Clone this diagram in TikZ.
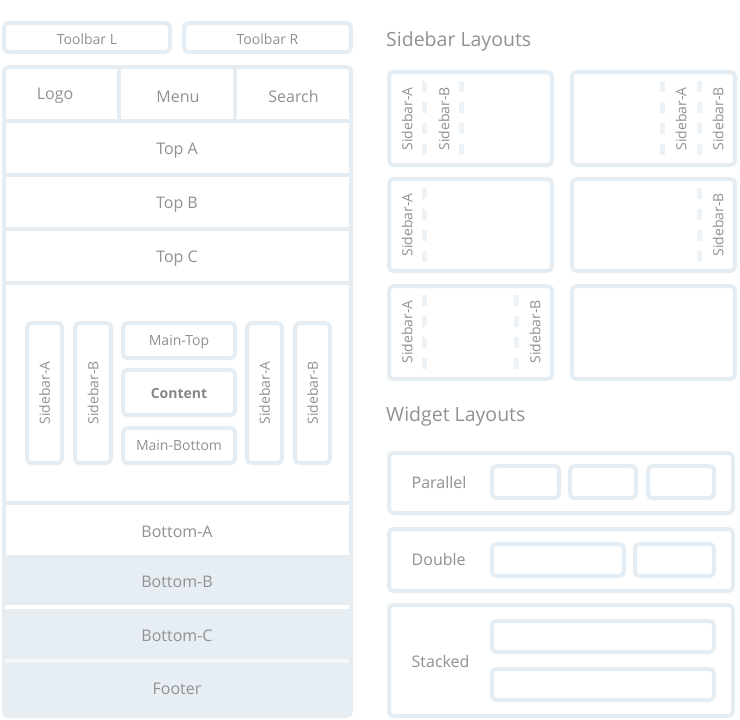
\documentclass[tikz,border=0pt]{standalone}
\usepackage{fontspec}
\setmainfont{Open Sans}
\definecolor{bordc}{RGB}{228,237,243}
\definecolor{fillc}{RGB}{230,238,243}
\definecolor{dashc}{RGB}{237,242,246}
\definecolor{footsep}{RGB}{244,247,250}
\definecolor{txtc}{RGB}{145,145,148}
\definecolor{boldc}{RGB}{135,135,138}
\tikzset{
  box/.style={draw=bordc, line width=4pt, rounded corners=4.5pt, inner sep=0pt, fill=white},
  sep/.style={draw=bordc, line width=4pt},
  dashln/.style={draw=dashc, line width=5pt, dash pattern=on 11pt off 10pt},
  lbl/.style={text=txtc, inner sep=0pt, anchor=base, font=\fontsize{16}{18}\selectfont},
  small/.style={text=txtc, inner sep=0pt, anchor=base, font=\fontsize{14}{16}\selectfont},
  vlbl/.style={text=txtc, inner sep=0pt, rotate=90, font=\fontsize{14}{16}\selectfont},
  ttl/.style={text=txtc, inner sep=0pt, anchor=base west, font=\fontsize{19.5}{22}\selectfont},
}
% name, x1, y1, x2, y2 (outer pixel edges), extra style
\newcommand\bx[6]{%
  \node[box,#6,minimum width={#4-#2-4},minimum height={#5-#3-4}] (#1) at ({(#2+#4)/2},{(#3+#5)/2}) {};}
\begin{document}
\begin{tikzpicture}[x=1pt,y=-1pt]
\useasboundingbox (0,0) rectangle (740,720);
% toolbars
\bx{tbl}{2}{21}{172}{54}{}
\bx{tbr}{182}{21}{353}{54}{}
\node[small] (ttbl) at (87,44) {Toolbar L};
\node[small] (ttbr) at (267.5,44) {Toolbar R};
% main frame
\bx{frame}{2}{65}{353}{718}{}
\begin{scope}
  \clip[rounded corners=4.5pt] (4,67) rectangle (351,716);
  \fill[fillc] (0,555) rectangle (360,720);
\end{scope}
\draw[draw=white, line width=4pt] (5,607) -- (349,607);
\draw[draw=footsep, line width=4pt] (5,661) -- (349,661);
\draw[sep] (119,67) -- (119,121);
\draw[sep] (235,67) -- (235,121);
\draw[sep] (4,121) -- (351,121);
\draw[sep] (4,175) -- (351,175);
\draw[sep] (4,229) -- (351,229);
\draw[sep] (4,283) -- (351,283);
\draw[sep] (4,503) -- (351,503);
\node[lbl] (logo) at (55,99.5) {Logo};
\node[lbl] (menu) at (178,102) {Menu};
\node[lbl] (search) at (293.5,102) {Search};
\node[lbl] (topa) at (177,154) {Top A};
\node[lbl] (topb) at (177,208) {Top B};
\node[lbl] (topc) at (177,262) {Top C};
\node[lbl] (bota) at (177,537.3) {Bottom-A};
\node[lbl] (botb) at (177,587.3) {Bottom-B};
\node[lbl] (botc) at (177,641) {Bottom-C};
\node[lbl] (footer) at (177,694.3) {Footer};
% content area
\bx{sa1}{25}{321}{64}{465}{}
\bx{sb1}{73}{321}{113}{465}{}
\bx{mtop}{121}{321}{237}{360}{}
\bx{cont}{121}{368}{237}{417}{}
\bx{mbot}{121}{426}{237}{465}{}
\bx{sa2}{245}{321}{284}{465}{}
\bx{sb2}{293}{321}{332}{465}{}
\node[small] (tmtop) at (179,345) {Main-Top};
\node[small,font=\fontsize{14}{16}\selectfont\bfseries,text=boldc] (tcont) at (179,398.3) {Content};
\node[small] (tmbot) at (179,450.7) {Main-Bottom};
\node[vlbl] (tsa1) at (sa1) {Sidebar-A};
\node[vlbl] (tsb1) at (sb1) {Sidebar-B};
\node[vlbl] (tsa2) at (sa2) {Sidebar-A};
\node[vlbl] (tsb2) at (sb2) {Sidebar-B};
% sidebar layouts
\node[ttl] (sbt) at (386,46.7) {Sidebar Layouts};
\bx{l1}{387}{70}{554}{167}{}
\bx{l2}{570}{70}{737}{167}{}
\bx{l3}{387}{177}{554}{273}{}
\bx{l4}{570}{177}{737}{273}{}
\bx{l5}{387}{284}{554}{381}{}
\bx{l6}{570}{284}{737}{381}{}
\draw[dashln] (424,81) -- (424,157);
\draw[dashln] (461,81) -- (461,157);
\node[vlbl] (l1a) at (407,119) {Sidebar-A};
\node[vlbl] (l1b) at (444,119) {Sidebar-B};
\draw[dashln] (662,81) -- (662,157);
\draw[dashln] (699,81) -- (699,157);
\node[vlbl] (l2a) at (681,119) {Sidebar-A};
\node[vlbl] (l2b) at (718,119) {Sidebar-B};
\draw[dashln] (424,188) -- (424,264);
\node[vlbl] (l3a) at (407,225) {Sidebar-A};
\draw[dashln] (699,188) -- (699,264);
\node[vlbl] (l4b) at (718,225) {Sidebar-B};
\draw[dashln] (424,295) -- (424,371);
\draw[dashln] (516,295) -- (516,371);
\node[vlbl] (l5a) at (407,332) {Sidebar-A};
\node[vlbl] (l5b) at (535,332) {Sidebar-B};
% widget layouts
\node[ttl] (wgt) at (386,421.7) {Widget Layouts};
\bx{wp}{387}{451}{735}{515}{}
\bx{wp1}{490}{464}{561}{500}{}
\bx{wp2}{568}{464}{638}{500}{}
\bx{wp3}{646}{464}{716}{500}{}
\node[lbl,anchor=base west] (tpar) at (411.5,488.3) {Parallel};
\bx{wd}{387}{527}{735}{593}{}
\bx{wd1}{490}{542}{626}{578}{}
\bx{wd2}{633}{542}{716}{578}{}
\node[lbl,anchor=base west] (tdbl) at (411.5,565.7) {Double};
\bx{ws}{387}{603}{735}{718}{}
\bx{ws1}{490}{619}{716}{654}{}
\bx{ws2}{490}{667}{716}{702}{}
\node[lbl,anchor=base west] (tstk) at (411.5,667.3) {Stacked};
\end{tikzpicture}
\end{document}
